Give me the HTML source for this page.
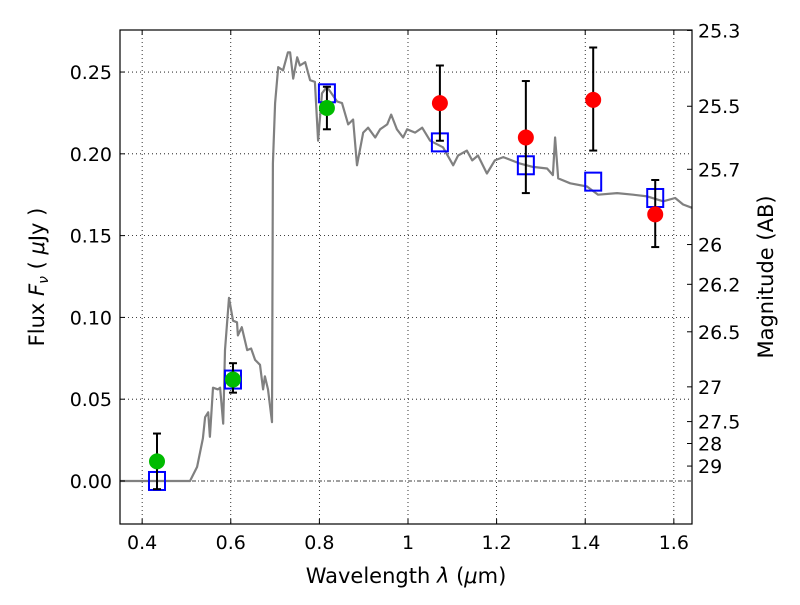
<!DOCTYPE html>
<html><head><meta charset="utf-8"><style>
body{margin:0;background:#fff;}
svg text{font-family:"DejaVu Sans","Liberation Sans",sans-serif;}
</style></head><body>
<svg id="chart" width="800" height="600" xmlns="http://www.w3.org/2000/svg">
<g id="grid"></g>
<g id="spec"></g>
<g id="marks"></g>
<rect x="120" y="30" width="572" height="494" fill="none" stroke="#000" stroke-width="1.2"/>
<g id="axes"></g>
<text x="406" y="583" font-size="21" text-anchor="middle">Wavelength  <tspan font-style="italic">λ</tspan> (<tspan font-style="italic">μ</tspan>m)</text>
<text transform="translate(44,277) rotate(-90)" font-size="21" text-anchor="middle">Flux  <tspan font-style="italic">F</tspan><tspan font-style="italic" font-size="14" dy="4">ν</tspan><tspan dy="-4">  (  <tspan font-style="italic">μ</tspan>Jy )</tspan></text>
<text transform="translate(773,277) rotate(-90)" font-size="21" text-anchor="middle">Magnitude (AB)</text>
</svg>
<script>
const specLam=[0.35,0.508,0.524,0.537,0.542,0.549,0.553,0.560,0.571,0.576,0.583,0.587,0.596,0.605,0.614,0.616,0.625,0.637,0.646,0.655,0.666,0.673,0.677,0.684,0.693,0.695,0.700,0.707,0.718,0.729,0.734,0.741,0.750,0.756,0.768,0.779,0.790,0.797,0.806,0.817,0.840,0.851,0.865,0.876,0.885,0.899,0.910,0.926,0.937,0.953,0.962,0.975,0.989,0.998,1.016,1.032,1.050,1.079,1.102,1.113,1.133,1.145,1.158,1.178,1.196,1.215,1.253,1.282,1.314,1.327,1.332,1.339,1.366,1.404,1.429,1.472,1.508,1.540,1.576,1.603,1.621,1.641];
const specFlux=[0,0,0.0086,0.026,0.039,0.042,0.027,0.057,0.056,0.057,0.035,0.080,0.112,0.098,0.097,0.089,0.094,0.080,0.081,0.074,0.071,0.056,0.064,0.056,0.036,0.194,0.231,0.253,0.251,0.262,0.262,0.246,0.259,0.254,0.256,0.245,0.244,0.208,0.237,0.241,0.232,0.231,0.218,0.221,0.193,0.213,0.216,0.210,0.215,0.218,0.224,0.215,0.210,0.215,0.213,0.216,0.208,0.204,0.193,0.199,0.202,0.196,0.199,0.188,0.196,0.198,0.194,0.192,0.191,0.187,0.210,0.185,0.182,0.180,0.175,0.176,0.175,0.174,0.171,0.173,0.169,0.167];
const greenLam=[0.4335,0.605,0.817];
const greenFlux=[0.012,0.062,0.228];
const greenLo=[-0.005,0.054,0.215];
const greenHi=[0.029,0.072,0.241];
const redLam=[1.072,1.266,1.418,1.558];
const redFlux=[0.231,0.210,0.233,0.163];
const redLo=[0.208,0.176,0.202,0.143];
const redHi=[0.254,0.2445,0.265,0.184];
const modelLam=[0.4335,0.605,0.817,1.072,1.266,1.418,1.558];
const modelFlux=[0.0,0.062,0.237,0.207,0.193,0.183,0.173];
const xTicks=[0.4,0.6,0.8,1.0,1.2,1.4,1.6];
const xTickLabels=["0.4","0.6","0.8","1","1.2","1.4","1.6"];
const yTicks=[0,0.05,0.10,0.15,0.20,0.25];
const yTickLabels=["0.00","0.05","0.10","0.15","0.20","0.25"];
const magTicks=[25.3,25.5,25.7,26,26.2,26.5,27,27.5,28,29];
const magLabels=["25.3","25.5","25.7","26","26.2","26.5","27","27.5","28","29"];
const NS="http://www.w3.org/2000/svg";
const X0=0.35,X1=1.641,Y0=-0.0263,Y1=0.2757,L=120,R=692,T=30,B=524;
const sx=v=>L+(v-X0)/(X1-X0)*(R-L);
const sy=v=>B-(v-Y0)/(Y1-Y0)*(B-T);
function mk(tag,at,parent){const e=document.createElementNS(NS,tag);for(const k in at)e.setAttribute(k,at[k]);parent.appendChild(e);return e;}
const grid=document.getElementById('grid'),axes=document.getElementById('axes'),spec=document.getElementById('spec'),marks=document.getElementById('marks');
xTicks.forEach((v,i)=>{const x=sx(v);
 let g=mk('line',{x1:x,x2:x,y1:T,y2:B,stroke:'#000','stroke-width':0.8,'stroke-dasharray':'1,3'},grid);
 
 
 mk('line',{x1:x,x2:x,y1:B,y2:B-5,stroke:'#000'},axes);mk('line',{x1:x,x2:x,y1:T,y2:T+5,stroke:'#000'},axes);
 let t=mk('text',{x:x,y:B+25,'font-size':19,'text-anchor':'middle'},axes);t.textContent=xTickLabels[i];
 
 });
yTicks.forEach((v,i)=>{const y=sy(v);
 let g=mk('line',{x1:L,x2:R,y1:y,y2:y,stroke:'#000','stroke-width':0.8,'stroke-dasharray':v===0?'4,2,1,2':'1,3'},grid);
 
 
 mk('line',{x1:L,x2:L+5,y1:y,y2:y,stroke:'#000'},axes);
 let t=mk('text',{x:L-8,y:y+7,'font-size':19,'text-anchor':'end'},axes);t.textContent=yTickLabels[i];
 
 });
magTicks.forEach((m,i)=>{const f=Math.pow(10,(23.9-m)/2.5);const y=sy(f);
 mk('line',{x1:R,x2:R-5,y1:y,y2:y,stroke:'#000'},axes);
 let t=mk('text',{x:R+6,y:y+7,'font-size':19},axes);t.textContent=magLabels[i];
 
 });
let d=specLam.map((v,i)=>(i?'L':'M')+sx(v).toFixed(1)+','+sy(specFlux[i]).toFixed(1)).join(' ');
let p=mk('path',{d:d,fill:'none',stroke:'#808080','stroke-width':2.2,'stroke-linejoin':'round'},spec);


modelLam.forEach((v,i)=>{let r=mk('rect',{x:sx(v)-8,y:sy(modelFlux[i])-9,width:16,height:18,fill:'none',stroke:'#0000ff','stroke-width':2},marks);
 
 });
function pts(lam,fl,lo,hi,col,name){lam.forEach((v,i)=>{const x=sx(v);
 let e=mk('g',{},marks);
 
 
 mk('line',{x1:x,x2:x,y1:sy(lo[i]),y2:sy(hi[i]),stroke:'#000','stroke-width':2},e);
 mk('line',{x1:x-4,x2:x+4,y1:sy(lo[i]),y2:sy(lo[i]),stroke:'#000','stroke-width':2},e);
 mk('line',{x1:x-4,x2:x+4,y1:sy(hi[i]),y2:sy(hi[i]),stroke:'#000','stroke-width':2},e);
 let c=mk('circle',{cx:x,cy:sy(fl[i]),r:8,fill:col},marks);
 
 });}
pts(greenLam,greenFlux,greenLo,greenHi,'#00bb00','optical');
pts(redLam,redFlux,redLo,redHi,'#ff0000','nir');
</script>
</body></html>
